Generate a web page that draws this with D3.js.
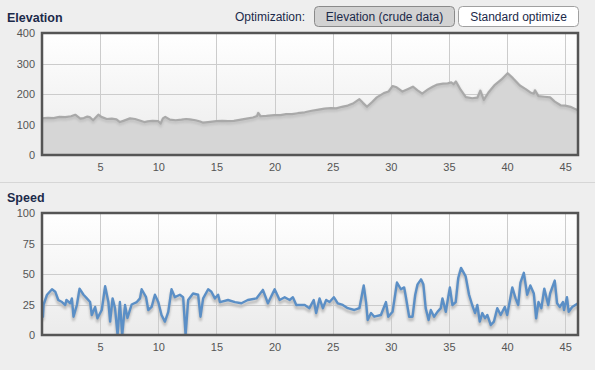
<!DOCTYPE html>
<html>
<head>
<meta charset="utf-8">
<script src="https://cdn.jsdelivr.net/npm/d3@7/dist/d3.min.js"></script>
<style>
  html, body { margin: 0; padding: 0; background: #eeeeee; }
  svg { display: block; font-family: "Liberation Sans", Arial, sans-serif; }
</style>
</head>
<body>
<script>
// elevation profile (km, m)
const elevKm = [0, 0.5, 1, 1.5, 2, 2.5, 2.86, 3.1, 3.3, 3.6, 3.9, 4.1, 4.4, 4.6, 4.85, 5.1, 5.57, 6, 6.4, 6.7,
  7.0, 7.57, 8, 8.4, 8.8, 9.1, 9.5, 10, 10.2, 10.4, 10.6, 11, 11.5, 12, 12.4, 12.7, 13.2, 13.6, 13.86, 14.3,
  15, 15.5, 16, 16.5, 17, 17.6, 18.15, 18.5, 18.6, 18.8, 19.3, 20, 20.5, 21, 21.5, 22, 22.6, 23.2, 23.8, 24.3,
  24.85, 25.3, 25.8, 26.3, 26.8, 27.3, 27.6, 27.95, 28.4, 28.8, 29.4, 29.8, 30.15, 30.5, 31, 31.4, 31.9, 32.3, 32.7, 33.2,
  33.6, 34, 34.5, 34.9, 35.2, 35.4, 35.6, 36.0, 36.45, 37, 37.45, 37.7, 38, 38.4, 38.9, 39.5, 40.05, 40.5, 41.1, 41.6,
  42.0, 42.3, 42.4, 42.7, 43.2, 43.7, 44.1, 44.6, 45.0, 45.45, 45.8, 46.1];
const elevM = [120, 122, 121, 125, 124, 127, 132, 125, 119, 121, 126, 124, 114, 122, 132, 125, 118, 119, 117, 108,
  112, 120, 118, 113, 108, 110, 112, 111, 103, 120, 125, 116, 114, 116, 118, 117, 114, 110, 106, 108,
  111, 112, 111, 112, 115, 119, 123, 128, 138, 127, 128, 131, 131, 134, 134, 137, 140, 145, 149, 152,
  154, 153, 158, 162, 170, 183, 171, 158, 174, 189, 203, 208, 226, 222, 208, 215, 224, 212, 201, 215,
  224, 231, 234, 235, 238, 232, 241, 214, 190, 186, 188, 211, 181, 205, 228, 247, 268, 252, 228, 216,
  205, 201, 212, 193, 191, 189, 175, 163, 162, 158, 152, 147];

// speed (km, km/h)
const speedKm = [0, 0.08, 0.14, 0.43, 0.86, 1.14, 1.4, 1.72, 2, 2.1, 2.43, 2.57, 2.71, 3.0, 3.23, 3.57, 3.86, 4.14, 4.28, 4.57,
  4.77, 5.14, 5.43, 5.71, 5.86, 6.07, 6.28, 6.5, 6.7, 6.9, 7.14, 7.35, 7.71, 8.15, 8.43, 8.57, 8.95, 9.14, 9.43, 9.71,
  10, 10.28, 10.57, 10.86, 11.14, 11.43, 11.86, 12.14, 12.35, 12.57, 12.99, 13.43, 13.63, 13.86, 14.29, 14.57, 14.87, 15.15, 15.3, 16,
  16.6, 17.15, 17.7, 18.44, 19.0, 19.43, 20.01, 20.44, 20.87, 21.3, 21.58, 21.87, 22.6, 23.0, 23.37, 23.58, 23.87, 24.16, 24.44, 24.73,
  25.1, 25.44, 25.87, 26.3, 26.87, 27.3, 27.67, 27.87, 28.01, 28.3, 28.58, 29.15, 29.58, 29.78, 30.15, 30.53, 30.87, 31.15, 31.3, 31.58,
  31.87, 32.1, 32.3, 32.6, 32.8, 33.0, 33.25, 33.44, 33.72, 34.01, 34.3, 34.44, 34.73, 35.08, 35.3, 35.58, 35.8, 36.04, 36.44, 36.73,
  37.0, 37.25, 37.44, 37.65, 37.87, 38.1, 38.3, 38.6, 38.87, 39.16, 39.45, 39.8, 40.01, 40.45, 40.73, 40.96, 41.15, 41.44, 41.73, 42.0,
  42.3, 42.5, 42.7, 42.95, 43.2, 43.54, 43.7, 44.1, 44.3, 44.54, 44.8, 44.9, 45.15, 45.3, 45.6, 46.1];
const speedKmh = [20, 15, 25, 33, 37.5, 35.5, 28.7, 27, 24.6, 28.7, 26, 30, 15, 24.6, 38, 33, 30, 27, 16.4, 23,
  13.7, 20.5, 40, 27, 11, 30, 22, 0, 27, 0, 24.6, 14, 25, 27, 30, 37.5, 31, 20.5, 23, 33,
  27, 16.4, 11, 19, 37.5, 31, 33, 31, 0, 28.7, 34, 33, 15, 30, 37.5, 35.5, 30, 33, 27, 28.7,
  27, 26, 28.7, 30, 37, 26, 37.5, 28.7, 31, 28.7, 31, 24.6, 24.6, 22, 28.7, 18, 30, 22, 28.7, 27,
  31, 26, 24.6, 22, 20.5, 22, 40.6, 27, 12.3, 18, 15, 16.4, 27, 15, 19, 43, 37.5, 39, 31, 15,
  15, 33, 41.5, 45.6, 41.5, 22, 12.3, 20.5, 15, 19, 22, 30, 19, 39, 24.6, 27, 46.7, 55, 48, 33,
  24.6, 18, 24.6, 11, 18, 13.7, 16.4, 8.2, 11, 22, 16.4, 23, 16.4, 39, 30, 24.6, 43, 51, 33, 40.6,
  34, 13.7, 27, 22, 38, 24.6, 34, 44.6, 26, 23, 27, 20.5, 31, 19, 23, 26];

const elevTicks = [0, 100, 200, 300, 400];
const speedTicks = [0, 25, 50, 75, 100];
const kmTicks = [5, 10, 15, 20, 25, 30, 35, 40, 45];

const W = 595, H = 370;
const plotL = 42, plotR = 578;

const svg = d3.select('body').append('svg')
  .attr('width', W).attr('height', H);

const defs = svg.append('defs');
const grad = defs.append('linearGradient')
  .attr('id', 'plotBg').attr('x1', 0).attr('y1', 0).attr('x2', 0).attr('y2', 1);
grad.append('stop').attr('offset', '0%').attr('stop-color', '#ffffff');
grad.append('stop').attr('offset', '100%').attr('stop-color', '#ebebeb');
const blur = defs.append('filter').attr('id', 'soft').attr('x', '-5%').attr('y', '-20%').attr('width', '110%').attr('height', '140%');
blur.append('feGaussianBlur').attr('stdDeviation', 1.2);

const x = d3.scaleLinear().domain([0, 46.1]).range([plotL, plotR]);

// header
svg.append('text').attr('x', 7).attr('y', 22)
  .attr('font-size', 12.5).attr('font-weight', 'bold').attr('fill', '#1c2a4a')
  .text('Elevation');
svg.append('text').attr('x', 235).attr('y', 21)
  .attr('font-size', 12).attr('fill', '#1c2a4a')
  .text('Optimization:');

const buttons = [
  { label: 'Elevation (crude data)', x0: 314, x1: 454, fill: '#d2d2d2', stroke: '#8a8a8a' },
  { label: 'Standard optimize', x0: 458, x1: 578, fill: '#ffffff', stroke: '#a0a0a0' }
];
buttons.forEach(b => {
  svg.append('rect').attr('x', b.x0 + 0.5).attr('y', 6.5)
    .attr('width', b.x1 - b.x0).attr('height', 20).attr('rx', 4)
    .attr('fill', b.fill).attr('stroke', b.stroke);
  svg.append('text').attr('x', (b.x0 + b.x1) / 2 + 0.5).attr('y', 21)
    .attr('text-anchor', 'middle').attr('font-size', 12).attr('fill', '#1c2a4a')
    .text(b.label);
});

// separator
svg.append('line').attr('x1', 0).attr('x2', W).attr('y1', 182.5).attr('y2', 182.5)
  .attr('stroke', '#d6d6d6');

svg.append('text').attr('x', 7).attr('y', 202)
  .attr('font-size', 12.5).attr('font-weight', 'bold').attr('fill', '#1c2a4a')
  .text('Speed');

function panel(top, bottom, yMax, yTicks) {
  const y = d3.scaleLinear().domain([0, yMax]).range([bottom, top]);
  const g = svg.append('g');
  g.append('rect').attr('x', plotL).attr('y', top)
    .attr('width', plotR - plotL).attr('height', bottom - top)
    .attr('fill', 'url(#plotBg)');

  // grid
  g.append('g').selectAll('line').data(kmTicks).join('line')
    .attr('x1', d => Math.round(x(d)) + 0.5).attr('x2', d => Math.round(x(d)) + 0.5)
    .attr('y1', top).attr('y2', bottom)
    .attr('stroke', '#cccccc');
  g.append('g').selectAll('line').data(yTicks.slice(1, -1)).join('line')
    .attr('x1', plotL).attr('x2', plotR)
    .attr('y1', d => Math.round(y(d)) + 0.5).attr('y2', d => Math.round(y(d)) + 0.5)
    .attr('stroke', '#cccccc');

  // axes
  const yAxis = d3.axisLeft(y).tickValues(yTicks).tickSize(0).tickPadding(7);
  const ya = svg.append('g').attr('transform', `translate(${plotL},0)`).call(yAxis);
  ya.select('.domain').remove();
  ya.selectAll('text').attr('font-size', 11).attr('fill', '#555555')
    .attr('font-family', '"Liberation Sans", Arial, sans-serif');

  const xAxis = d3.axisBottom(x).tickValues(kmTicks).tickSize(0).tickPadding(8);
  const xa = svg.append('g').attr('transform', `translate(0,${bottom})`).call(xAxis);
  xa.select('.domain').remove();
  xa.selectAll('text').attr('font-size', 11).attr('fill', '#555555')
    .attr('font-family', '"Liberation Sans", Arial, sans-serif');

  return { y, g };
}

// elevation panel
const elev = panel(33, 155, 400, elevTicks);
const elevData = elevKm.map((k, i) => ({ k, v: elevM[i] }));
const clip1 = defs.append('clipPath').attr('id', 'clip1');
clip1.append('rect').attr('x', plotL).attr('y', 33).attr('width', plotR - plotL).attr('height', 122);
const eg = svg.append('g').attr('clip-path', 'url(#clip1)');
eg.append('path').datum(elevData)
  .attr('d', d3.area().x(d => x(d.k)).y0(155).y1(d => elev.y(d.v)))
  .attr('fill', '#d6d6d6');
eg.append('path').datum(elevData)
  .attr('d', d3.line().x(d => x(d.k)).y(d => elev.y(d.v) + 2))
  .attr('fill', 'none').attr('stroke', '#c2c2c2').attr('stroke-width', 3)
  .attr('filter', 'url(#soft)');
eg.append('path').datum(elevData)
  .attr('d', d3.line().x(d => x(d.k)).y(d => elev.y(d.v)))
  .attr('fill', 'none').attr('stroke', '#a9a9a9').attr('stroke-width', 2.2)
  .attr('stroke-linejoin', 'round');
svg.append('rect').attr('x', plotL).attr('y', 33)
  .attr('width', plotR - plotL).attr('height', 122)
  .attr('fill', 'none').attr('stroke', '#555555').attr('stroke-width', 2.5);

// speed panel
const spd = panel(213, 335, 100, speedTicks);
const speedData = speedKm.map((k, i) => ({ k, v: speedKmh[i] }));
const clip2 = defs.append('clipPath').attr('id', 'clip2');
clip2.append('rect').attr('x', plotL).attr('y', 213).attr('width', plotR - plotL).attr('height', 122);
const sg = svg.append('g').attr('clip-path', 'url(#clip2)');
sg.append('path').datum(speedData)
  .attr('d', d3.line().x(d => x(d.k)).y(d => spd.y(d.v) + 3))
  .attr('fill', 'none').attr('stroke', '#bdbdbd').attr('stroke-width', 3)
  .attr('stroke-linejoin', 'round').attr('filter', 'url(#soft)');
sg.append('path').datum(speedData)
  .attr('d', d3.line().x(d => x(d.k)).y(d => spd.y(d.v)))
  .attr('fill', 'none').attr('stroke', '#5b8fc6').attr('stroke-width', 2.4)
  .attr('stroke-linejoin', 'round');
svg.append('rect').attr('x', plotL).attr('y', 213)
  .attr('width', plotR - plotL).attr('height', 122)
  .attr('fill', 'none').attr('stroke', '#555555').attr('stroke-width', 2.5);
</script>
</body>
</html>
